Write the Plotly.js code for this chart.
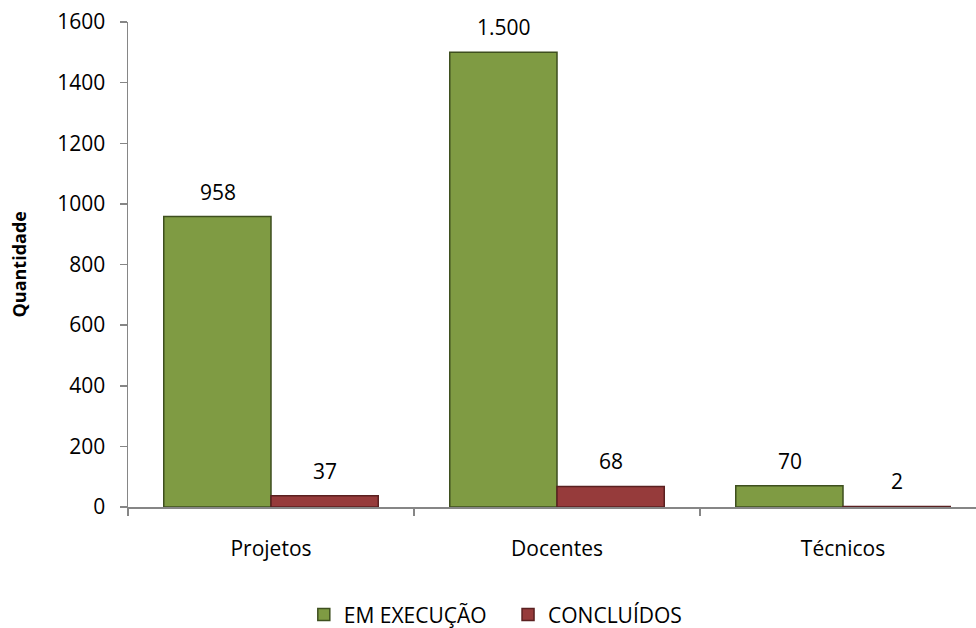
<!DOCTYPE html>
<html>
<head>
<meta charset="utf-8">
<script src="https://cdn.plot.ly/plotly-3.0.1.min.js"></script>
<style>html,body{margin:0;padding:0;background:#fff;overflow:hidden}</style>
</head>
<body>
<div id="chart" style="width:976px;height:628px"></div>
<script>
const categories = ["Projetos", "Docentes", "Técnicos"];
const emExecucao = [958, 1500, 70];
const concluidos = [37, 68, 2];
const emExecucaoLabels = ["958", "1.500", "70"];
const concluidosLabels = ["37", "68", "2"];
const seriesNames = ["EM EXECUÇÃO", "CONCLUÍDOS"];
const yTicks = [0, 200, 400, 600, 800, 1000, 1200, 1400, 1600];
const yTitle = "Quantidade";

const font = "'Open Sans', Lato, sans-serif";
const green = "#7f9b43";
const red = "#963b3b";

const traces = [
  {type: "bar", name: seriesNames[0] + "\u00a0\u00a0\u00a0", x: categories, y: emExecucao,
   marker: {color: green, line: {color: "#3e4f1f", width: 1.5}}, hoverinfo: "none"},
  {type: "bar", name: seriesNames[1], x: categories, y: concluidos,
   marker: {color: red, line: {color: "#5a2020", width: 1.5}}, hoverinfo: "none"}
];

const annotations = [];
const barPx = 107;
categories.forEach((c, i) => {
  annotations.push({x: c, y: emExecucao[i], xref: "x", yref: "y", text: emExecucaoLabels[i],
    showarrow: false, xshift: -barPx / 2, yshift: 25, yanchor: "middle",
    font: {family: font, size: 21, color: "#000"}});
  annotations.push({x: c, y: concluidos[i], xref: "x", yref: "y", text: concluidosLabels[i],
    showarrow: false, xshift: barPx / 2, yshift: 25, yanchor: "middle",
    font: {family: font, size: 21, color: "#000"}});
});
annotations.push({x: 0, y: 0.5, xref: "paper", yref: "paper", text: "<b>" + yTitle + "</b>",
  textangle: -90, showarrow: false, xshift: -110, xanchor: "center", yanchor: "middle",
  font: {family: font, size: 18, color: "#000"}});

const layout = {
  width: 976, height: 628,
  margin: {l: 128, r: 0, t: 22, b: 121},
  paper_bgcolor: "#fff", plot_bgcolor: "#fff",
  barmode: "group", bargap: 0.25, bargroupgap: 0,
  font: {family: font, size: 21, color: "#000"},
  showlegend: true,
  legend: {orientation: "h", x: 0.508, xref: "container", xanchor: "center",
           y: 0.021, yref: "container", yanchor: "middle",
           font: {family: font, size: 21, color: "#000"}, itemwidth: 30, traceorder: "normal"},
  xaxis: {
    type: "category", range: [-0.5, 2.465], automargin: false,
    showline: true, linecolor: "#868686", linewidth: 1.5,
    ticks: "outside", tickson: "boundaries", ticklen: 7, tickcolor: "#868686", tickwidth: 1.5,
    ticklabelstandoff: 22, showgrid: false, zeroline: false,
    tickfont: {family: font, size: 21, color: "#000"}
  },
  yaxis: {
    range: [0, 1600], tickvals: yTicks, ticktext: yTicks.map(String), automargin: false,
    showline: true, linecolor: "#868686", linewidth: 1.5,
    ticks: "outside", ticklen: 7, tickcolor: "#868686", tickwidth: 1.5,
    ticklabelstandoff: 10, showgrid: false, zeroline: false,
    tickfont: {family: font, size: 21, color: "#000"}
  },
  annotations: annotations
};

Plotly.newPlot("chart", traces, layout, {displayModeBar: false, staticPlot: true});
</script>
</body>
</html>
